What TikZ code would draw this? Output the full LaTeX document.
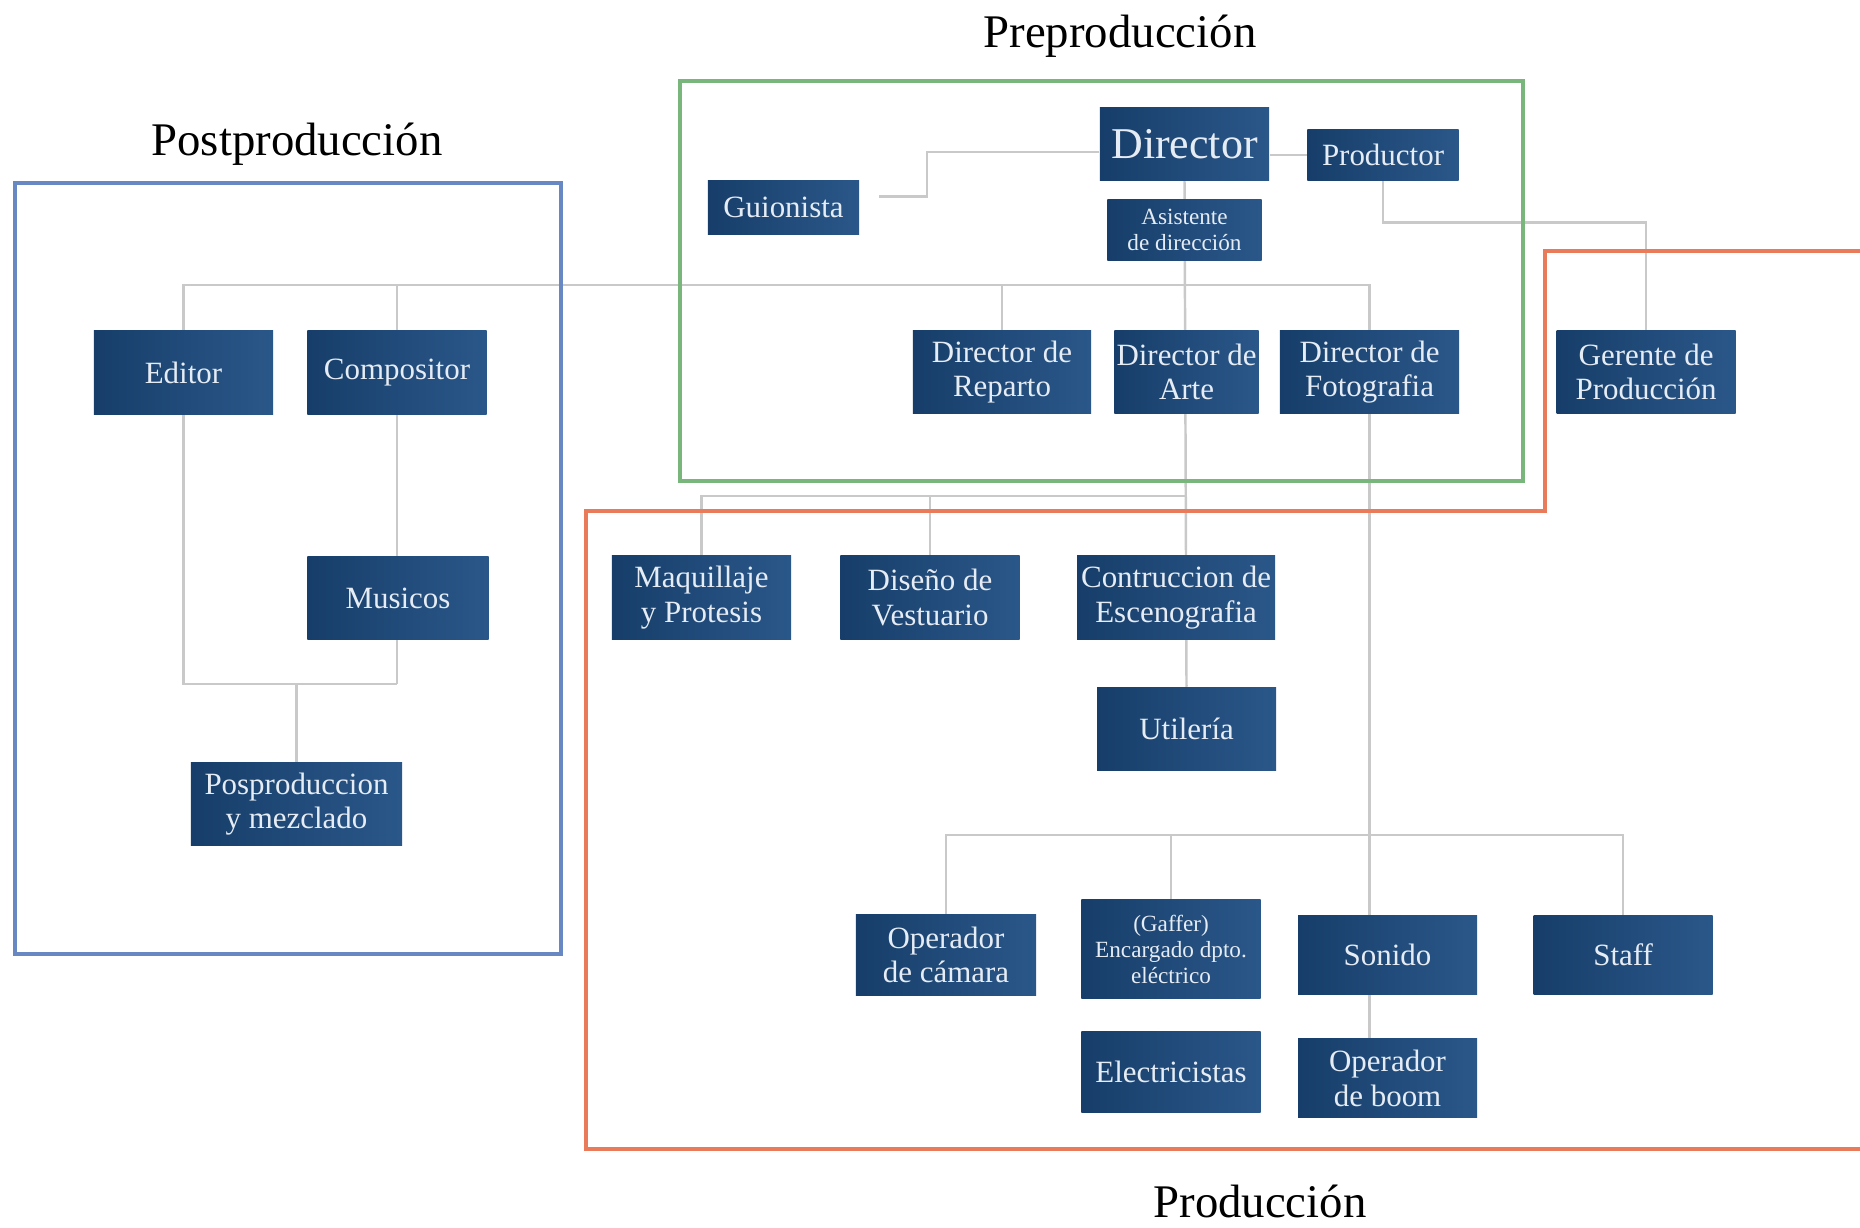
\documentclass[tikz,border=0pt]{standalone}
\usepackage{fontspec}
\setmainfont{Liberation Serif}
\usetikzlibrary{positioning, backgrounds}

\definecolor{boxdark}{HTML}{173E6A}
\definecolor{boxlight}{HTML}{2A5789}
\definecolor{boxtext}{HTML}{E6ECF4}
\definecolor{linkgray}{HTML}{C9C9C9}
\definecolor{preframe}{HTML}{79B67B}
\definecolor{postframe}{HTML}{6888C4}
\definecolor{prodframe}{HTML}{E97B5B}

\begin{document}
\begin{tikzpicture}[
    x=0.01cm, y=-0.01cm,
    box/.style={left color=boxdark, right color=boxlight, text=boxtext, align=center, inner sep=1pt,
      minimum width=1.79cm, minimum height=0.83cm, font=\fontsize{8.8}{9.8}\selectfont},
    smallbox/.style={box, font=\fontsize{6.6}{7.4}\selectfont},
    link/.style={draw=linkgray, line width=0.7pt},
    title/.style={font=\fontsize{13.3}{15}\selectfont},
    frame/.style={line width=1.1pt}
  ]
    \useasboundingbox (0,0) rectangle (1860,1228);

    % titulos
    \node[title] (pretitle) at (1120,36) {Preproducción};
    \node[title] (posttitle) at (297,144) {Postproducción};
    \node[title] (prodtitle) at (1260,1201) {Producción};

    % preproduccion
    \node[box, minimum width=1.69cm, minimum height=0.72cm, font=\fontsize{12.5}{14}\selectfont] (dir) at (1184.5,144) {Director};
    \node[box, minimum width=1.51cm, minimum height=0.50cm, right=0.37cm of dir, yshift=-0.11cm] (prod) {Productor};
    \node[box, minimum width=1.51cm, minimum height=0.53cm] (guion) at (783.5,207.5) {Guionista};
    \node[smallbox, minimum width=1.54cm, minimum height=0.61cm, below=0.18cm of dir] (asis) {Asistente\\de dirección};
    \node[box, minimum width=1.78cm] (reparto) at (1002,372) {Director de\\Reparto};
    \node[box, inner xsep=0pt, minimum width=1.44cm, right=0.22cm of reparto] (arte) {Director de\\Arte};
    \node[box, right=0.20cm of arte] (foto) {Director de\\Fotografia};
    \node[box, right=0.96cm of foto] (gerente) {Gerente de\\Producción};

    % postproduccion
    \node[box] (editor) at (183.5,372.5) {Editor};
    \node[box, right=0.33cm of editor] (compos) {Compositor};
    \node[box, minimum width=1.81cm, below=1.41cm of compos, xshift=0.01cm] (musicos) {Musicos};
    \node[box, minimum width=2.11cm] (pospro) at (296.5,804) {Posproduccion\\y mezclado};

    % produccion
    \node[box] (maquil) at (701.5,597.5) {Maquillaje\\y Protesis};
    \node[box, right=0.48cm of maquil] (disen) {Diseño de\\Vestuario};
    \node[box, minimum width=1.98cm, right=0.56cm of disen] (contru) {Contruccion de\\Escenografia};
    \node[box, below=0.47cm of contru, xshift=0.105cm] (utile) {Utilería};
    \node[box, minimum width=1.80cm, minimum height=0.80cm] (opcam) at (946,955) {Operador\\de cámara};
    \node[smallbox, minimum height=0.98cm, right=0.44cm of opcam, yshift=0.06cm] (gaffer) {(Gaffer)\\Encargado dpto.\\eléctrico};
    \node[box, minimum height=0.79cm, right=0.36cm of opcam.east -| gaffer.east] (sonido) {Sonido};
    \node[box, minimum height=0.79cm, right=0.55cm of sonido] (staff) {Staff};
    \node[box, minimum height=0.81cm, below=0.32cm of gaffer] (electr) {Electricistas};
    \node[box, minimum height=0.79cm, below=0.43cm of sonido] (boom) {Operador\\de boom};

    \coordinate (bus1) at (0,285);
    \coordinate (bus2) at (0,496);
    \coordinate (bus3) at (0,684);
    \coordinate (bus4) at (0,835);

    \begin{scope}[on background layer]
      \draw[link] ([yshift=-0.08cm]dir.west) -- ++(-172,0) |- ([xshift=0.19cm, yshift=0.11cm]guion.east);
      \draw[link] (dir.east |- prod.west) -- (prod.west);
      \draw[link] (prod.south) -- ++(0,42) -| (gerente.north);

      \draw[link] (dir.south) -- (arte.south |- utile.north);
      \draw[link] (editor.north) |- (foto.north |- bus1) -- (foto.north);
      \draw[link] (compos.north) -- (compos.north |- bus1);
      \draw[link] (reparto.north) -- (reparto.north |- bus1);

      \draw[link] (maquil.north) |- (arte.south |- bus2);
      \draw[link] (disen.north) -- (disen.north |- bus2);

      \draw[link] (compos.south) -- (compos.south |- bus3);
      \draw[link] (editor.south) |- (compos.south |- bus3);
      \draw[link] (pospro.north) -- (pospro.north |- bus3);

      \draw[link] (foto.south) -- (foto.south |- boom.north);
      \draw[link] (opcam.north) |- (staff.north |- bus4) -- (staff.north);
      \draw[link] (gaffer.north) -- (gaffer.north |- bus4);
    \end{scope}

    % marcos
    \draw[frame, preframe] (680,81) rectangle (1523,481);
    \draw[frame, postframe] (15,183) rectangle (561,954);
    \draw[frame, prodframe] (1870,251) -- (1545,251) -- (1545,511) -- (586,511) -- (586,1149) -- (1870,1149);
  \end{tikzpicture}
\end{document}
